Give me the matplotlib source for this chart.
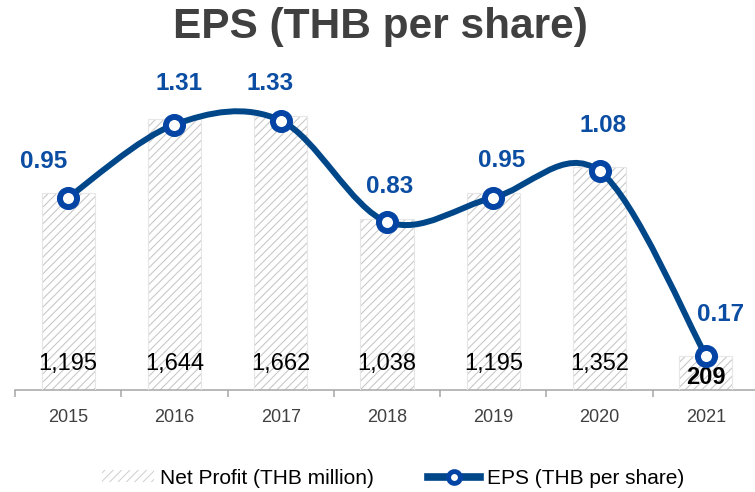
import numpy as np
import matplotlib
matplotlib.use("Agg")
import matplotlib.pyplot as plt
from matplotlib.path import Path
from matplotlib.patches import PathPatch, Patch
from matplotlib.lines import Line2D

plt.rcParams['font.family'] = ['Liberation Sans', 'DejaVu Sans']
plt.rcParams['hatch.linewidth'] = 0.75

# data
years = ['2015', '2016', '2017', '2018', '2019', '2020', '2021']
net_profit = [1195, 1644, 1662, 1038, 1195, 1352, 209]
eps = [0.95, 1.31, 1.33, 0.83, 0.95, 1.08, 0.17]

# label offsets in pixels (dx, dy) - manual placement like the original
eps_offsets = [(-25, 36), (5, 41), (-11, 37), (3, 35), (8, 37), (3, 46), (15, 41)]

LINE_BLUE = '#00478A'
RING_BLUE = '#0344A4'
LABEL_BLUE = '#0B4DA2'
GREY_TEXT = '#404040'


def smooth_path(xs, ys):
	# excel-like smoothed line: catmull-rom turned into cubic bezier segments
	pts = np.column_stack([xs, ys]).astype(float)
	n = len(pts)
	verts = [pts[0]]
	codes = [Path.MOVETO]
	for i in range(n - 1):
		p0 = pts[i - 1] if i > 0 else pts[i]
		p1 = pts[i]
		p2 = pts[i + 1]
		p3 = pts[i + 2] if i + 2 < n else pts[i + 1]
		verts += [p1 + (p2 - p0) / 6, p2 - (p3 - p1) / 6, p2]
		codes += [Path.CURVE4] * 3
	return Path(verts, codes)


fig = plt.figure(figsize=(7.55, 4.92), dpi=100)
W, H = 755, 492
ax_left, ax_right, ax_bottom, ax_top = 15, 759, 390, 60
ax = fig.add_axes([ax_left / W, 1 - ax_bottom / H, (ax_right - ax_left) / W, (ax_bottom - ax_top) / H])
ax2 = ax.twinx()

x = np.arange(len(years))

ax.bar(x, net_profit, width=0.5, color='white', edgecolor='#C6C6C6', hatch='////', linewidth=0, zorder=2)
ax.bar(x, net_profit, width=0.5, fill=False, edgecolor='#E6E6E6', linewidth=0.8, zorder=3)
ax.set_ylim(0, (ax_bottom - ax_top) / 0.1649)
ax.set_xlim(-0.5, len(years) - 0.5)

for i, v in enumerate(net_profit):
	last = i == len(net_profit) - 1
	ax.annotate(f"{v:,}", (x[i], 0), xytext=(0, (12 if last else 26) * 0.72), textcoords='offset points',
		ha='center', va='center', fontsize=17, color='black', fontweight='bold' if last else 'normal', zorder=4)

ax2.add_patch(PathPatch(smooth_path(x, eps), fill=False, edgecolor=LINE_BLUE, linewidth=4.3,
	capstyle='round', joinstyle='round', zorder=5))
ax2.plot(x, eps, 'o', ls='none', ms=12.3, mfc='white', mec=RING_BLUE, mew=4.3, zorder=6)
ax2.set_ylim(0, (ax_bottom - ax_top) / 202.6)

for i, v in enumerate(eps):
	dx, dy = eps_offsets[i]
	ax2.annotate(f"{v:.2f}", (x[i], v), xytext=(dx * 0.72, dy * 0.72), textcoords='offset points',
		ha='center', va='center', fontsize=17.5, fontweight='bold', color=LABEL_BLUE, zorder=7)

for a in (ax, ax2):
	for s in ('top', 'right', 'left'):
		a.spines[s].set_visible(False)
	a.set_yticks([])
ax2.spines['bottom'].set_visible(False)
ax.spines['bottom'].set_color('#A6A6A6')
ax.spines['bottom'].set_linewidth(1.1)

ax.set_xticks(x)
ax.set_xticklabels(years, fontsize=13, color=GREY_TEXT)
ax.tick_params(axis='x', which='major', length=0, pad=14)
ax.set_xticks(np.arange(-0.5, len(years), 1.0), minor=True)
ax.tick_params(axis='x', which='minor', length=5, width=1.1, color='#A6A6A6', direction='out')

fig.text(380 / W, 1 - 27 / H, 'EPS (THB per share)', ha='center', va='center',
	fontsize=30.5, fontweight='bold', color=GREY_TEXT)

handles = [
	Patch(facecolor='white', edgecolor='#D0D0D0', hatch='////', linewidth=0),
	Line2D([0], [0], color=LINE_BLUE, lw=5.5, marker='o', ms=8.5, mfc='white', mec=RING_BLUE, mew=3.5),
]
fig.legend(handles, ['Net Profit (THB million)', 'EPS (THB per share)'], loc='center',
	bbox_to_anchor=(393 / W, 1 - 478 / H), ncol=2, frameon=False, fontsize=15,
	handlelength=2.5, handleheight=0.5, handletextpad=0.3, columnspacing=2.6, borderpad=0)

fig.savefig('out.png', dpi=100)
